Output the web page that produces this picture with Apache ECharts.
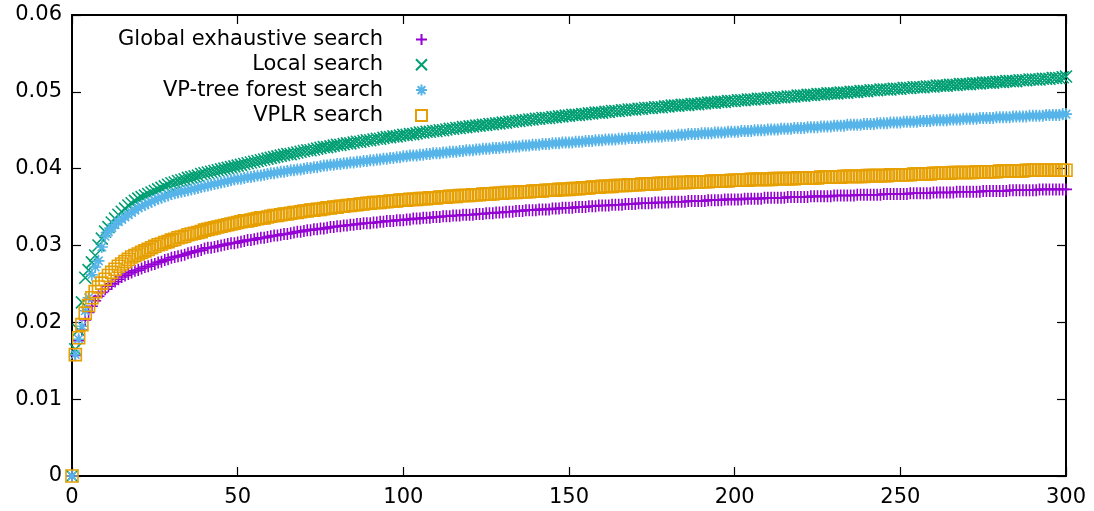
<!DOCTYPE html>
<html>
<head>
<meta charset="utf-8">
<script src="https://cdn.jsdelivr.net/npm/echarts@6/dist/echarts.min.js"></script>
<style>
html,body{margin:0;padding:0;background:#fff;}
#chart{width:1094px;height:511px;}
</style>
</head>
<body>
<div id="chart"></div>
<script>
// Series names (legend order)
const seriesNames = ["Global exhaustive search", "Local search", "VP-tree forest search", "VPLR search"];
const xTicks = [0, 50, 100, 150, 200, 250, 300];
const yTicks = [0, 0.01, 0.02, 0.03, 0.04, 0.05, 0.06];

// Values at x = 0, 1, 2, ... 300
const globalSearch = [
0,0.0157,0.0176,0.0190,0.0203,0.0213,0.0221,0.0228,0.0234,0.0239,
0.0243,0.0247,0.0250,0.0253,0.0256,0.0259,0.0261,0.0263,0.0265,0.0267,
0.0268,0.0270,0.0272,0.0273,0.0275,0.0276,0.0278,0.0279,0.0281,0.0282,
0.0284,0.0285,0.0286,0.0287,0.0288,0.0290,0.0291,0.0292,0.0293,0.0294,
0.0296,0.0297,0.0297,0.0298,0.0299,0.0300,0.0301,0.0302,0.0303,0.0303,
0.0304,0.0305,0.0306,0.0307,0.0307,0.0308,0.0309,0.0310,0.0310,0.0311,
0.0312,0.0313,0.0313,0.0314,0.0315,0.0315,0.0316,0.0317,0.0318,0.0318,
0.0319,0.0320,0.0320,0.0321,0.0321,0.0322,0.0322,0.0323,0.0324,0.0324,
0.0325,0.0325,0.0326,0.0326,0.0327,0.0327,0.0328,0.0328,0.0329,0.0329,
0.0329,0.0330,0.0330,0.0331,0.0331,0.0332,0.0332,0.0332,0.0333,0.0333,
0.0333,0.0334,0.0334,0.0335,0.0335,0.0335,0.0336,0.0336,0.0336,0.0337,
0.0337,0.0337,0.0338,0.0338,0.0338,0.0339,0.0339,0.0339,0.0340,0.0340,
0.0340,0.0340,0.0341,0.0341,0.0341,0.0342,0.0342,0.0342,0.0343,0.0343,
0.0343,0.0344,0.0344,0.0344,0.0345,0.0345,0.0345,0.0346,0.0346,0.0346,
0.0346,0.0347,0.0347,0.0347,0.0347,0.0348,0.0348,0.0348,0.0349,0.0349,
0.0349,0.0349,0.0350,0.0350,0.0350,0.0350,0.0351,0.0351,0.0351,0.0352,
0.0352,0.0352,0.0352,0.0353,0.0353,0.0353,0.0353,0.0354,0.0354,0.0354,
0.0354,0.0355,0.0355,0.0355,0.0355,0.0355,0.0356,0.0356,0.0356,0.0356,
0.0356,0.0357,0.0357,0.0357,0.0357,0.0357,0.0358,0.0358,0.0358,0.0358,
0.0358,0.0358,0.0359,0.0359,0.0359,0.0359,0.0359,0.0360,0.0360,0.0360,
0.0360,0.0360,0.0360,0.0361,0.0361,0.0361,0.0361,0.0361,0.0361,0.0362,
0.0362,0.0362,0.0362,0.0362,0.0362,0.0362,0.0363,0.0363,0.0363,0.0363,
0.0363,0.0363,0.0363,0.0364,0.0364,0.0364,0.0364,0.0364,0.0364,0.0364,
0.0365,0.0365,0.0365,0.0365,0.0365,0.0365,0.0365,0.0366,0.0366,0.0366,
0.0366,0.0366,0.0366,0.0366,0.0366,0.0367,0.0367,0.0367,0.0367,0.0367,
0.0367,0.0367,0.0367,0.0368,0.0368,0.0368,0.0368,0.0368,0.0368,0.0368,
0.0369,0.0369,0.0369,0.0369,0.0369,0.0369,0.0369,0.0370,0.0370,0.0370,
0.0370,0.0370,0.0370,0.0370,0.0370,0.0371,0.0371,0.0371,0.0371,0.0371,
0.0371,0.0371,0.0371,0.0372,0.0372,0.0372,0.0372,0.0372,0.0372,0.0372,
0.0372,0.0372,0.0373,0.0373,0.0373,0.0373,0.0373,0.0373,0.0373,0.0373,
0.0373
];

const localSearch = [
0,0.0165,0.0190,0.0226,0.0258,0.0268,0.0278,0.0287,0.0300,0.0309,
0.0318,0.0324,0.0330,0.0335,0.0340,0.0344,0.0348,0.0352,0.0355,0.0358,
0.0361,0.0363,0.0365,0.0367,0.0369,0.0371,0.0373,0.0375,0.0377,0.0379,
0.0381,0.0382,0.0384,0.0385,0.0386,0.0388,0.0389,0.0390,0.0391,0.0393,
0.0394,0.0395,0.0396,0.0397,0.0398,0.0399,0.0400,0.0401,0.0402,0.0403,
0.0404,0.0405,0.0406,0.0407,0.0408,0.0409,0.0410,0.0411,0.0412,0.0413,
0.0414,0.0415,0.0416,0.0417,0.0418,0.0419,0.0419,0.0420,0.0421,0.0422,
0.0423,0.0424,0.0424,0.0425,0.0426,0.0427,0.0428,0.0428,0.0429,0.0430,
0.0431,0.0431,0.0432,0.0433,0.0433,0.0434,0.0435,0.0435,0.0436,0.0437,
0.0437,0.0438,0.0439,0.0439,0.0440,0.0441,0.0441,0.0442,0.0442,0.0443,
0.0444,0.0444,0.0445,0.0445,0.0446,0.0447,0.0447,0.0448,0.0448,0.0449,
0.0449,0.0450,0.0450,0.0451,0.0452,0.0452,0.0453,0.0453,0.0454,0.0454,
0.0455,0.0455,0.0456,0.0456,0.0457,0.0457,0.0458,0.0458,0.0459,0.0459,
0.0460,0.0460,0.0461,0.0461,0.0462,0.0462,0.0463,0.0463,0.0464,0.0464,
0.0465,0.0465,0.0466,0.0466,0.0466,0.0467,0.0467,0.0468,0.0468,0.0469,
0.0469,0.0470,0.0470,0.0470,0.0471,0.0471,0.0472,0.0472,0.0473,0.0473,
0.0473,0.0474,0.0474,0.0475,0.0475,0.0475,0.0476,0.0476,0.0477,0.0477,
0.0477,0.0478,0.0478,0.0479,0.0479,0.0479,0.0480,0.0480,0.0480,0.0481,
0.0481,0.0482,0.0482,0.0482,0.0483,0.0483,0.0483,0.0484,0.0484,0.0484,
0.0485,0.0485,0.0486,0.0486,0.0486,0.0487,0.0487,0.0487,0.0488,0.0488,
0.0488,0.0489,0.0489,0.0489,0.0490,0.0490,0.0490,0.0491,0.0491,0.0491,
0.0492,0.0492,0.0492,0.0493,0.0493,0.0493,0.0494,0.0494,0.0494,0.0495,
0.0495,0.0495,0.0496,0.0496,0.0496,0.0497,0.0497,0.0497,0.0498,0.0498,
0.0498,0.0498,0.0499,0.0499,0.0499,0.0500,0.0500,0.0500,0.0501,0.0501,
0.0501,0.0502,0.0502,0.0502,0.0503,0.0503,0.0503,0.0503,0.0504,0.0504,
0.0504,0.0505,0.0505,0.0505,0.0506,0.0506,0.0506,0.0506,0.0507,0.0507,
0.0507,0.0508,0.0508,0.0508,0.0508,0.0509,0.0509,0.0509,0.0510,0.0510,
0.0510,0.0510,0.0511,0.0511,0.0511,0.0512,0.0512,0.0512,0.0512,0.0513,
0.0513,0.0513,0.0514,0.0514,0.0514,0.0514,0.0515,0.0515,0.0515,0.0516,
0.0516,0.0516,0.0516,0.0517,0.0517,0.0517,0.0518,0.0518,0.0518,0.0519,
0.0520
];

const vpForestSearch = [
0,0.0158,0.0178,0.0195,0.0215,0.0232,0.0262,0.0272,0.0280,0.0298,
0.0312,0.0318,0.0323,0.0327,0.0331,0.0334,0.0337,0.0340,0.0343,0.0346,
0.0349,0.0351,0.0353,0.0355,0.0357,0.0359,0.0361,0.0362,0.0364,0.0365,
0.0367,0.0368,0.0369,0.0370,0.0371,0.0372,0.0373,0.0374,0.0375,0.0376,
0.0377,0.0378,0.0379,0.0380,0.0381,0.0382,0.0383,0.0384,0.0385,0.0386,
0.0387,0.0387,0.0388,0.0389,0.0389,0.0390,0.0391,0.0391,0.0392,0.0393,
0.0394,0.0394,0.0395,0.0396,0.0396,0.0397,0.0398,0.0398,0.0399,0.0399,
0.0400,0.0401,0.0401,0.0402,0.0402,0.0403,0.0404,0.0404,0.0405,0.0405,
0.0406,0.0406,0.0407,0.0407,0.0408,0.0408,0.0409,0.0409,0.0410,0.0410,
0.0411,0.0411,0.0412,0.0412,0.0413,0.0413,0.0414,0.0414,0.0415,0.0415,
0.0416,0.0416,0.0417,0.0417,0.0417,0.0418,0.0418,0.0419,0.0419,0.0420,
0.0420,0.0420,0.0421,0.0421,0.0422,0.0422,0.0422,0.0423,0.0423,0.0424,
0.0424,0.0424,0.0425,0.0425,0.0426,0.0426,0.0426,0.0427,0.0427,0.0427,
0.0428,0.0428,0.0428,0.0429,0.0429,0.0429,0.0430,0.0430,0.0430,0.0431,
0.0431,0.0431,0.0432,0.0432,0.0432,0.0433,0.0433,0.0433,0.0434,0.0434,
0.0434,0.0434,0.0435,0.0435,0.0435,0.0436,0.0436,0.0436,0.0437,0.0437,
0.0437,0.0438,0.0438,0.0438,0.0438,0.0439,0.0439,0.0439,0.0440,0.0440,
0.0440,0.0440,0.0441,0.0441,0.0441,0.0442,0.0442,0.0442,0.0442,0.0443,
0.0443,0.0443,0.0443,0.0444,0.0444,0.0444,0.0445,0.0445,0.0445,0.0445,
0.0446,0.0446,0.0446,0.0446,0.0447,0.0447,0.0447,0.0447,0.0448,0.0448,
0.0448,0.0448,0.0449,0.0449,0.0449,0.0449,0.0450,0.0450,0.0450,0.0450,
0.0451,0.0451,0.0451,0.0451,0.0452,0.0452,0.0452,0.0452,0.0453,0.0453,
0.0453,0.0453,0.0454,0.0454,0.0454,0.0454,0.0455,0.0455,0.0455,0.0455,
0.0456,0.0456,0.0456,0.0456,0.0457,0.0457,0.0457,0.0457,0.0457,0.0458,
0.0458,0.0458,0.0458,0.0459,0.0459,0.0459,0.0459,0.0460,0.0460,0.0460,
0.0460,0.0461,0.0461,0.0461,0.0461,0.0461,0.0462,0.0462,0.0462,0.0462,
0.0463,0.0463,0.0463,0.0463,0.0463,0.0464,0.0464,0.0464,0.0464,0.0465,
0.0465,0.0465,0.0465,0.0465,0.0466,0.0466,0.0466,0.0466,0.0466,0.0467,
0.0467,0.0467,0.0467,0.0467,0.0468,0.0468,0.0468,0.0468,0.0468,0.0469,
0.0469,0.0469,0.0469,0.0469,0.0470,0.0470,0.0470,0.0470,0.0470,0.0471,
0.0471
];

const vplrSearch = [
0,0.0158,0.0180,0.0197,0.0212,0.0222,0.0232,0.0240,0.0246,0.0251,
0.0256,0.0261,0.0265,0.0269,0.0273,0.0276,0.0279,0.0282,0.0285,0.0287,
0.0289,0.0291,0.0293,0.0295,0.0297,0.0299,0.0301,0.0302,0.0304,0.0305,
0.0307,0.0308,0.0310,0.0311,0.0312,0.0314,0.0315,0.0316,0.0317,0.0318,
0.0320,0.0321,0.0322,0.0323,0.0324,0.0325,0.0326,0.0327,0.0328,0.0329,
0.0330,0.0331,0.0332,0.0332,0.0333,0.0334,0.0335,0.0336,0.0336,0.0337,
0.0338,0.0339,0.0339,0.0340,0.0341,0.0341,0.0342,0.0343,0.0343,0.0344,
0.0345,0.0345,0.0346,0.0346,0.0347,0.0347,0.0348,0.0349,0.0349,0.0350,
0.0350,0.0351,0.0351,0.0352,0.0352,0.0353,0.0353,0.0354,0.0354,0.0355,
0.0355,0.0356,0.0356,0.0356,0.0357,0.0357,0.0358,0.0358,0.0358,0.0359,
0.0359,0.0359,0.0360,0.0360,0.0360,0.0361,0.0361,0.0361,0.0362,0.0362,
0.0362,0.0363,0.0363,0.0363,0.0364,0.0364,0.0364,0.0365,0.0365,0.0365,
0.0365,0.0366,0.0366,0.0366,0.0367,0.0367,0.0367,0.0367,0.0368,0.0368,
0.0368,0.0369,0.0369,0.0369,0.0369,0.0370,0.0370,0.0370,0.0370,0.0371,
0.0371,0.0371,0.0371,0.0372,0.0372,0.0372,0.0372,0.0373,0.0373,0.0373,
0.0373,0.0374,0.0374,0.0374,0.0375,0.0375,0.0375,0.0376,0.0376,0.0376,
0.0377,0.0377,0.0377,0.0377,0.0378,0.0378,0.0378,0.0378,0.0379,0.0379,
0.0379,0.0379,0.0380,0.0380,0.0380,0.0380,0.0380,0.0381,0.0381,0.0381,
0.0381,0.0381,0.0382,0.0382,0.0382,0.0382,0.0382,0.0383,0.0383,0.0383,
0.0383,0.0383,0.0383,0.0384,0.0384,0.0384,0.0384,0.0384,0.0384,0.0385,
0.0385,0.0385,0.0385,0.0385,0.0385,0.0386,0.0386,0.0386,0.0386,0.0386,
0.0386,0.0386,0.0387,0.0387,0.0387,0.0387,0.0387,0.0387,0.0387,0.0388,
0.0388,0.0388,0.0388,0.0388,0.0388,0.0388,0.0389,0.0389,0.0389,0.0389,
0.0389,0.0389,0.0389,0.0390,0.0390,0.0390,0.0390,0.0390,0.0390,0.0390,
0.0391,0.0391,0.0391,0.0391,0.0391,0.0391,0.0391,0.0392,0.0392,0.0392,
0.0392,0.0392,0.0392,0.0392,0.0393,0.0393,0.0393,0.0393,0.0393,0.0393,
0.0394,0.0394,0.0394,0.0394,0.0394,0.0394,0.0395,0.0395,0.0395,0.0395,
0.0395,0.0395,0.0395,0.0396,0.0396,0.0396,0.0396,0.0396,0.0396,0.0396,
0.0397,0.0397,0.0397,0.0397,0.0397,0.0397,0.0397,0.0397,0.0398,0.0398,
0.0398,0.0398,0.0398,0.0398,0.0398,0.0398,0.0398,0.0398,0.0398,0.0398,
0.0398
];

const seriesValues = [globalSearch, localSearch, vpForestSearch, vplrSearch];
const colors = ["#9400d3", "#009e73", "#56b4e9", "#e69f00"];
const symbols = [
  "path://M0,5L10,5M5,0L5,10",
  "path://M0,0L10,10M0,10L10,0",
  "path://M0,5L10,5M5,0L5,10M1.5,1.5L8.5,8.5M1.5,8.5L8.5,1.5",
  "path://M0,0L10,0L10,10L0,10Z"
];

const FONT = "DejaVu Sans";
const FS = 21;

const chart = echarts.init(document.getElementById('chart'), null, {renderer: 'canvas'});

const axisCommon = {
  type: 'value',
  axisLine: {show: true, onZero: false, lineStyle: {color: '#000', width: 2}},
  axisTick: {show: true, inside: true, length: 9, lineStyle: {color: '#000', width: 1.2}},
  splitLine: {show: false}
};

const option = {
  animation: false,
  backgroundColor: '#fff',
  grid: {left: 72, right: 28, top: 15, bottom: 35, containLabel: false},
  xAxis: [
    Object.assign({}, axisCommon, {
      position: 'bottom', min: xTicks[0], max: xTicks[xTicks.length - 1], interval: xTicks[1] - xTicks[0],
      axisLabel: {color: '#000', fontFamily: FONT, fontSize: FS, margin: 11}
    }),
    Object.assign({}, axisCommon, {
      position: 'top', min: xTicks[0], max: xTicks[xTicks.length - 1], interval: xTicks[1] - xTicks[0],
      axisLabel: {show: false}
    })
  ],
  yAxis: [
    Object.assign({}, axisCommon, {
      position: 'left', min: yTicks[0], max: yTicks[yTicks.length - 1], interval: yTicks[1] - yTicks[0],
      axisLabel: {color: '#000', fontFamily: FONT, fontSize: FS, margin: 10,
        formatter: v => (Math.abs(v) < 1e-12 ? '0' : v.toFixed(2))}
    }),
    Object.assign({}, axisCommon, {
      position: 'right', min: yTicks[0], max: yTicks[yTicks.length - 1], interval: yTicks[1] - yTicks[0],
      axisLabel: {show: false}
    })
  ],
  legend: {
    orient: 'vertical',
    align: 'right',
    right: 661,
    top: 24,
    itemWidth: 11,
    itemHeight: 11,
    itemGap: 4.3,
    textStyle: {color: '#000', fontFamily: FONT, fontSize: FS, lineHeight: 20, padding: [0, 28, 0, 0]},
    data: seriesNames.map(n => ({name: n}))
  },
  series: seriesNames.map((name, k) => ({
    name: name,
    type: 'scatter',
    xAxisIndex: 0,
    yAxisIndex: 0,
    clip: false,
    symbol: symbols[k],
    symbolSize: 12,
    itemStyle: {color: 'rgba(0,0,0,0)', borderColor: colors[k], borderWidth: 1.6, opacity: 1},
    emphasis: {disabled: true},
    data: seriesValues[k].map((v, i) => [i, v])
  }))
};

chart.setOption(option);
</script>
</body>
</html>
